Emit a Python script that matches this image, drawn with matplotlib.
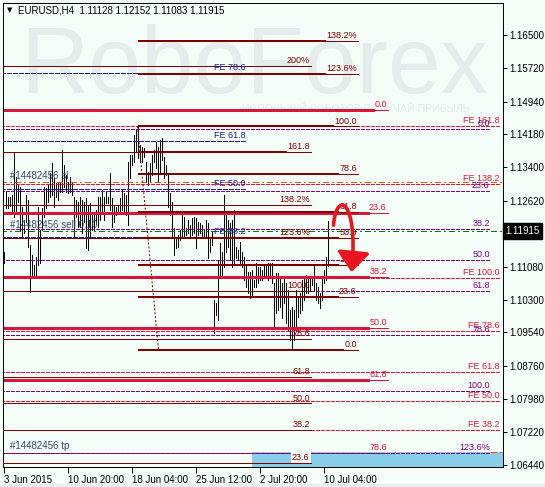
import matplotlib
matplotlib.use('Agg')
import matplotlib.pyplot as plt
from matplotlib.patches import Rectangle, FancyArrowPatch
from matplotlib.path import Path
import matplotlib.transforms as mtransforms

plt.rcParams['font.family'] = ['Liberation Sans', 'DejaVu Sans']
plt.rcParams['lines.scale_dashes'] = False

# ---------------- data ----------------
title_text = "EURUSD,H4  1.11128 1.12152 1.11083 1.11915"
current_price = 1.11915

highs = [
    1.1142, 1.1283, 1.1271, 1.1271, 1.1276, 1.1376, 1.1318, 1.1299, 1.1294, 1.1248,
    1.1217, 1.1276, 1.1264, 1.1159, 1.1135, 1.1112, 1.1131, 1.1248, 1.1194, 1.1245,
    1.1294, 1.1292, 1.1299, 1.1327, 1.1351, 1.1315, 1.1304, 1.1304, 1.1306, 1.1381,
    1.1346, 1.1322, 1.1306, 1.1318, 1.1306, 1.1271, 1.1264, 1.1259, 1.1271, 1.1264,
    1.1259, 1.1269, 1.1252, 1.1257, 1.1233, 1.1233, 1.1241, 1.1271, 1.1271, 1.1287,
    1.1271, 1.1283, 1.1271, 1.1327, 1.1269, 1.1252, 1.1248, 1.1252, 1.1269, 1.1287,
    1.1280, 1.1276, 1.1353, 1.1369, 1.1369, 1.1416, 1.1428, 1.1436, 1.1393, 1.1388,
    1.1386, 1.1353, 1.1329, 1.1351, 1.1369, 1.1381, 1.1400, 1.1388, 1.1404, 1.1409,
    1.1365, 1.1346, 1.1327, 1.1280, 1.1259, 1.1198, 1.1177, 1.1182, 1.1194, 1.1233,
    1.1224, 1.1198, 1.1217, 1.1205, 1.1222, 1.1224, 1.1222, 1.1212, 1.1210, 1.1205,
    1.1194, 1.1217, 1.1210, 1.1175, 1.1189, 1.1030, 1.1023, 1.1124, 1.1163, 1.1142,
    1.1276, 1.1236, 1.1217, 1.1210, 1.1217, 1.1241, 1.1154, 1.1147, 1.1166, 1.1142,
    1.1131, 1.1112, 1.1095, 1.1095, 1.1100, 1.1077, 1.1117, 1.1107, 1.1107, 1.1100,
    1.1112, 1.1112, 1.1117, 1.1117, 1.1117, 1.1070, 1.1093, 1.1093, 1.1084, 1.1070,
    1.1081, 1.1070, 1.1053, 1.1007, 1.1014, 1.1007, 1.1053, 1.1037, 1.1046, 1.1077,
    1.1084, 1.1088, 1.1081, 1.1084, 1.1081, 1.1112, 1.1070, 1.1060, 1.1046, 1.1084,
    1.1100, 1.1131, 1.12152]

lows = [
    1.1117, 1.1245, 1.1245, 1.1250, 1.1236, 1.1224, 1.1236, 1.1259, 1.1194, 1.1177,
    1.1187, 1.1212, 1.1154, 1.1049, 1.1084, 1.1084, 1.1084, 1.1112, 1.1117, 1.1194,
    1.1224, 1.1245, 1.1259, 1.1271, 1.1276, 1.1248, 1.1271, 1.1264, 1.1283, 1.1283,
    1.1294, 1.1283, 1.1280, 1.1283, 1.1276, 1.1177, 1.1224, 1.1201, 1.1201, 1.1187,
    1.1212, 1.1152, 1.1147, 1.1177, 1.1194, 1.1194, 1.1210, 1.1201, 1.1217, 1.1233,
    1.1217, 1.1257, 1.1257, 1.1241, 1.1201, 1.1212, 1.1229, 1.1233, 1.1236, 1.1241,
    1.1236, 1.1229, 1.1205, 1.1315, 1.1346, 1.1353, 1.1376, 1.1362, 1.1353, 1.1353,
    1.1365, 1.1306, 1.1299, 1.1306, 1.1322, 1.1353, 1.1339, 1.1306, 1.1329, 1.1358,
    1.1315, 1.1322, 1.1248, 1.1229, 1.1175, 1.1135, 1.1152, 1.1154, 1.1170, 1.1177,
    1.1175, 1.1182, 1.1187, 1.1177, 1.1182, 1.1187, 1.1152, 1.1182, 1.1187, 1.1177,
    1.1175, 1.1175, 1.1128, 1.1142, 1.1159, 1.0953, 1.0995, 1.0983, 1.1081, 1.1081,
    1.1107, 1.1142, 1.1154, 1.1124, 1.1107, 1.1112, 1.1128, 1.1124, 1.1112, 1.1107,
    1.1077, 1.1060, 1.1046, 1.1035, 1.1042, 1.1060, 1.1060, 1.1070, 1.1077, 1.1077,
    1.1081, 1.1081, 1.1077, 1.1084, 1.1070, 1.0967, 1.0999, 1.1007, 1.1014, 1.0988,
    1.1023, 1.0976, 1.0960, 1.0936, 1.0913, 1.0936, 1.0967, 1.0990, 1.0999, 1.1007,
    1.1030, 1.1046, 1.1046, 1.1053, 1.1065, 1.1053, 1.1030, 1.1023, 1.1011, 1.1030,
    1.1070, 1.1077, 1.11083]

x_tick_pos = [0, 32, 64, 96, 128, 160]
x_tick_labels = ["3 Jun 2015", "10 Jun 20:00", "18 Jun 04:00",
                 "25 Jun 12:00", "2 Jul 20:00", "10 Jul 04:00"]
y_ticks = [1.16500, 1.15720, 1.14940, 1.14180, 1.13400, 1.12620,
           1.11080, 1.10300, 1.09540, 1.08760, 1.07980, 1.07220, 1.06440]
x_range = (-0.5, 249.5)
y_range = (1.06391, 1.17260)

# Fibo A : thick maroon retracement
fibA_high, fibA_low = 1.1436, 1.0913
fibA_levels = [0, 23.6, 38.2, 50, 61.8, 78.6, 100, 123.6, 138.2]
fibA_labels = ["0.0", "23.6", "38.2", "50.0", "61.8", "78.6", "100.0", "123.6%", "138.2%"]
fibA_start, fibA_end = 67, 177
fibA_trend_x = (67, 77.5)

# Fibo B : thin maroon expansion
fibB_base, fibB_range = 1.05245, 0.05265
fibB_levels = [23.6, 38.2, 50, 61.8, 78.6, 100, 123.6, 138.2, 161.8, 200]
fibB_labels = ["23.6", "38.2", "50.0", "61.8", "78.6", "100.0", "123.6%", "138.2%", "161.8", "200%"]
fibB_end = 153.5
fibB_thick_level, fibB_thick_start = 161.8, 67

# Fibo E : thick crimson retracement
fibE_high, fibE_low = 1.1474, 1.0454
fibE_levels = [0, 23.6, 38.2, 50, 61.8, 78.6]
fibE_labels = ["0.0", "23.6", "38.2", "50.0", "61.8", "78.6"]
fibE_thin_levels = [78.6]
fibE_end = 192

# Fibo F : crimson dashed expansion
fibF_base, fibF_range = 1.05058, 0.05756
fibF_levels = [38.2, 50, 61.8, 78.6, 100, 138.2, 161.8]
fibF_labels = ["FE 38.2", "FE 50.0", "FE 61.8", "FE 78.6", "FE 100.0", "FE 138.2", "FE 161.8"]
fibF_end = 248.5

# Fibo G : purple dashed retracement
fibG_high, fibG_low = 1.1430, 1.0817
fibG_levels = [0, 23.6, 38.2, 50, 61.8, 78.6, 100, 123.6]
fibG_labels = ["0.0", "23.6", "38.2", "50.0", "61.8", "78.6", "100.0", "123.6%"]
fibG_end = 243.5

# Fibo H : navy dashed expansion
fibH_base, fibH_range = 1.08146, 0.0950
fibH_levels = [38.2, 50, 61.8, 78.6]
fibH_labels = ["FE 38.2", "FE 50.0", "FE 61.8", "FE 78.6"]
fibH_end = 121.5

# order lines
order_prices = [1.1306, 1.1191, 1.0674]
order_labels = ["#14482456 sl", "#14482456 sell 0.10", "#14482456 tp"]
order_colors = ["#FF4500", "#008000", "#FF4500"]
order_line_start = [-1.5, -1.5, 243.5]
order_label_x = 3.5

# highlighted zone
zone_x0, zone_top = 124, 1.0674

# arrow (bar index, price)
arrow_x = [165, 166.5, 177.5, 174]
arrow_p = [1.1205, 1.1290, 1.1262, 1.1095]

# ---------------- style ----------------
BG = '#F4FDF8'
MAROON = '#800000'
CRIMSON = '#DC143C'
PURPLE = '#800080'
NAVY = '#1C1C96'
PX = 0.72  # one pixel in points

fig = plt.figure(figsize=(5.45, 4.87), dpi=100, facecolor=BG)
ax = fig.add_axes([2.5 / 545, 20 / 487, 500 / 545, 464.5 / 487])
ax.set_facecolor(BG)
ax.set_xlim(*x_range)
ax.set_ylim(*y_range)

fig.patches.append(Rectangle((0, 0), 1, 3.5 / 487, transform=fig.transFigure,
                             facecolor='#EDEDED', edgecolor='none', zorder=0))

# watermark
ax.text(0.035, 0.805, "RoboForex", transform=ax.transAxes, fontsize=68,
        color='#E5ECEC', ha='left', va='baseline', zorder=0.1)
ax.text(0.479, 0.764, "ИСПОЛЬЗУЙ РОБОТОВ ПОЛУЧАЙ ПРИБЫЛЬ", transform=ax.transAxes,
        fontsize=7.6, color='#E6EDED', ha='left', va='baseline', zorder=0.1)

# price bars
idx = list(range(len(highs)))
ax.vlines(idx, lows, highs, color='black', lw=PX, zorder=1.5, antialiased=False)

# zone rectangle
ax.add_patch(Rectangle((zone_x0, y_range[0] - 0.01), x_range[1] + 5 - zone_x0,
                       zone_top - y_range[0] + 0.01, facecolor='#87CEEB',
                       edgecolor='none', zorder=1.2))

pending = []


def level(price, x0, x1, label, color, lw, ls='-', lab_color=None, thick=False,
          zorder=3, fs=6.5, bbox=None):
    t = ax.annotate(label, xy=(x1, price), xytext=(-0.6, 0.6), textcoords='offset points',
                    ha='right', va='bottom', fontsize=fs, color=lab_color or color,
                    zorder=zorder + 0.5, annotation_clip=False, bbox=bbox)
    pending.append((t, price, x0, x1, color, lw, ls, zorder, thick))


LEFT = x_range[0] - 1
DASH = (0, (2.2, 1.4))

# E crimson thick
for L, lab in zip(fibE_levels, fibE_labels):
    p = fibE_high - L / 100 * (fibE_high - fibE_low)
    if L in fibE_thin_levels:
        level(p, LEFT, fibE_end, lab, CRIMSON, 1 * PX, zorder=2.2)
    else:
        level(p, LEFT, fibE_end, lab, CRIMSON, 3 * PX, thick=True, zorder=2.2)

# F crimson dashed
for L, lab in zip(fibF_levels, fibF_labels):
    p = fibF_base + L / 100 * fibF_range
    level(p, LEFT, fibF_end, lab, CRIMSON, 1 * PX, ls=DASH, zorder=2.4)

# G purple dashed
for L, lab in zip(fibG_levels, fibG_labels):
    p = fibG_high - L / 100 * (fibG_high - fibG_low)
    level(p, LEFT, fibG_end, lab, PURPLE, 1 * PX, ls=DASH, zorder=2.5)

# H navy dashed
for L, lab in zip(fibH_levels, fibH_labels):
    p = fibH_base + L / 100 * fibH_range
    level(p, LEFT, fibH_end, lab, NAVY, 1.2 * PX, ls=(0, (2.9, 1.4)), zorder=2.6)

# B thin maroon
for L, lab in zip(fibB_levels, fibB_labels):
    p = fibB_base + L / 100 * fibB_range
    bb = None
    if L == 23.6:
        bb = dict(boxstyle='square,pad=0.1', fc=BG, ec='none')
    level(p, LEFT, fibB_end, lab, MAROON, 1 * PX, zorder=2.8, bbox=bb)

# A thick maroon
for L, lab in zip(fibA_levels, fibA_labels):
    p = fibA_low + L / 100 * (fibA_high - fibA_low)
    level(p, fibA_start, fibA_end, lab, MAROON, 2 * PX, thick=True, zorder=3)

# order lines
for p, lab, c, xs in zip(order_prices, order_labels, order_colors, order_line_start):
    ax.plot([xs, x_range[1] + 1], [p, p], color=c, lw=PX,
            ls=(0, (3.6, 2.2, 1.4, 2.2)), zorder=2.3, antialiased=False)
    ax.annotate(lab, xy=(order_label_x, p), xytext=(0, 0.8), textcoords='offset points',
                ha='left', va='bottom', fontsize=7, color='#3A4866', zorder=4)

# draw pending levels with thick line up to label, thin under label
fig.canvas.draw()
renderer = fig.canvas.get_renderer()
inv = ax.transData.inverted()
for t, p, x0, x1, c, lw, ls, z, thick in pending:
    bbx = t.get_window_extent(renderer)
    xl = inv.transform((bbx.x0, 0))[0]
    if thick:
        ax.plot([x0, xl], [p, p], color=c, lw=lw, ls=ls, zorder=z,
                solid_capstyle='butt', antialiased=False)
        ax.plot([xl, x1], [p, p], color=c, lw=PX, ls=ls, zorder=z, antialiased=False)
    else:
        ax.plot([x0, x1], [p, p], color=c, lw=lw, ls=ls, zorder=z,
                solid_capstyle='butt', antialiased=False)

# extra thick segment on B 161.8
pB = fibB_base + fibB_thick_level / 100 * fibB_range
for t, p, x0, x1, c, lw, ls, z, thick in pending:
    if abs(p - pB) < 1e-9:
        bbx = t.get_window_extent(renderer)
        xl = inv.transform((bbx.x0, 0))[0]
        ax.plot([fibB_thick_start, xl], [p, p], color=MAROON, lw=2 * PX, zorder=3,
                solid_capstyle='butt', antialiased=False)

# A trend line (dotted)
ax.plot(fibA_trend_x, [fibA_high, fibA_low], color=MAROON, lw=PX,
        ls=(0, (1.4, 1.4)), zorder=3)

# red arrow
verts = list(zip(arrow_x, arrow_p))
path = Path(verts, [Path.MOVETO, Path.CURVE4, Path.CURVE4, Path.CURVE4])
arrow = FancyArrowPatch(path=path, arrowstyle='-|>,head_length=0.55,head_width=0.45',
                        mutation_scale=22, lw=2.6, color='#E8141E', zorder=6)
ax.add_patch(arrow)

# axes styling
for s in ax.spines.values():
    s.set_color('black')
    s.set_linewidth(PX)
ax.yaxis.tick_right()
ax.set_yticks(y_ticks)
ax.set_yticklabels([f"{v:.5f}" for v in y_ticks])
ax.tick_params(axis='y', direction='out', length=3, width=PX, labelsize=7, pad=2,
               colors='black')
ax.set_xticks(x_tick_pos)
ax.set_xticklabels(x_tick_labels, ha='left')
ax.tick_params(axis='x', direction='out', length=4, width=PX, labelsize=7, pad=1.5,
               colors='black')

# current price tag
trans = mtransforms.blended_transform_factory(ax.transAxes, ax.transData)
ax.text(1.006, current_price, f"{current_price:.5f}", transform=trans, ha='left',
        va='center', color='white', fontsize=7, clip_on=False, zorder=10,
        bbox=dict(boxstyle='square,pad=0.28', fc='black', ec='black'))

# title
fig.text(7 / 545, 1 - 10.5 / 487, "\u25BC", fontsize=5, color='black', va='center',
         ha='left', family=['DejaVu Sans'])
fig.text(18 / 545, 1 - 10.5 / 487, title_text, fontsize=7, color='black', va='center',
         ha='left')

fig.savefig('out.png', dpi=100, facecolor=BG)
